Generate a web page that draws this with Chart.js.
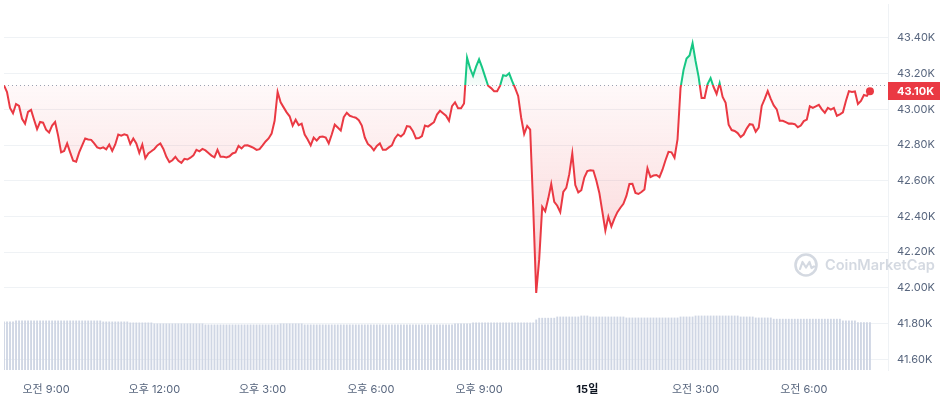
<!DOCTYPE html>
<html><head><meta charset="utf-8">
<script src="https://cdn.jsdelivr.net/npm/chart.js@4.4.1/dist/chart.umd.min.js"></script>
<style>html,body{margin:0;padding:0;background:#fff;}canvas{display:block}</style>
</head><body>
<canvas id="c" width="944" height="396"></canvas>
<script>
// 24h BTC price (USD), one value every 5 minutes starting 오전 7:50
const priceValues = [
43134,43097,43008,42978,43030,43019,42947,42920,42986,42997,
42942,42889,42929,42925,42886,42870,42909,42929,42853,42759,
42767,42809,42759,42712,42707,42759,42798,42837,42831,42829,
42809,42787,42781,42787,42776,42803,42767,42803,42859,42853,
42860,42855,42806,42837,42809,42756,42803,42726,42753,42765,
42778,42798,42809,42778,42734,42704,42715,42734,42712,42700,
42723,42719,42729,42742,42773,42765,42778,42770,42756,42741,
42731,42773,42734,42734,42731,42737,42753,42759,42795,42781,
42798,42799,42792,42784,42773,42777,42798,42820,42837,42864,
42936,43097,43039,43011,42983,42961,42909,42942,42911,42920,
42859,42831,42798,42842,42825,42845,42848,42842,42809,42859,
42914,42898,42881,42956,42981,42964,42958,42953,42939,42909,
42842,42806,42792,42770,42795,42809,42773,42773,42787,42798,
42837,42859,42848,42864,42906,42903,42878,42837,42839,42850,
42909,42903,42916,42928,42971,42992,42978,42964,42936,43018,
43039,43006,43006,43033,43290,43230,43188,43239,43280,43235,
43183,43132,43119,43101,43101,43133,43191,43187,43202,43158,
43119,43075,42953,42862,42907,42886,42454,41972,42161,42454,
42429,42500,42582,42482,42460,42424,42537,42560,42637,42753,
42576,42535,42547,42618,42654,42659,42657,42602,42532,42427,
42321,42399,42344,42388,42424,42449,42471,42515,42582,42583,
42532,42526,42537,42551,42670,42620,42629,42632,42620,42662,
42715,42762,42759,42729,42831,43119,43220,43285,43302,43371,
43271,43183,43064,43064,43141,43175,43125,43086,43147,43069,
43036,42914,42884,42879,42867,42845,42859,42892,42917,42914,
42875,42898,43019,43058,43102,43058,43022,43000,42936,42936,
42928,42920,42921,42917,42900,42909,42934,42943,43017,43008,
43017,43025,43000,42981,43008,42999,43008,42964,42972,42983,
43047,43102,43097,43100,43030,43047,43080,43075,43102
];
// 24h trading volume (billions USD), same timestamps
const volumeValues = [
19.6,19.6,19.6,19.6,
20.0,20.0,20.0,20.0,20.0,20.0,20.0,20.0,20.0,20.0,20.0,20.0,20.0,20.0,20.0,20.0,20.0,20.0,20.0,20.0,20.0,20.0,20.0,20.0,20.0,20.0,20.0,20.0,20.0,
19.6,19.6,19.6,19.6,19.6,19.6,19.6,19.6,19.6,
19.2,19.2,19.2,19.2,19.2,19.2,19.2,19.2,
18.8,18.8,18.8,18.8,18.8,18.8,18.8,18.8,18.8,18.8,18.8,18.8,18.8,18.8,18.8,18.8,18.8,
18.4,18.4,18.4,18.4,18.4,18.4,18.4,18.4,18.4,18.4,18.4,18.4,18.4,18.4,18.4,18.4,18.4,18.4,18.4,18.4,18.4,18.4,18.4,18.4,18.4,
18.8,18.8,18.8,18.8,18.8,18.8,18.8,18.8,
18.4,18.4,18.4,18.4,18.4,18.4,18.4,18.4,18.4,18.4,18.4,18.4,18.4,18.4,18.4,18.4,18.4,18.4,18.4,18.4,18.4,18.4,18.4,18.4,18.4,
18.4,18.4,18.4,18.4,18.4,18.4,18.4,18.4,18.4,18.4,18.4,18.4,18.4,18.4,18.4,18.4,18.4,18.4,18.4,18.4,18.4,18.4,18.4,18.4,18.4,
18.8,18.8,18.8,18.8,18.8,18.8,
19.2,19.2,19.2,19.2,19.2,19.2,19.2,19.2,19.2,19.2,19.2,19.2,19.2,19.2,19.2,19.2,19.2,19.2,19.2,19.2,19.2,
20.4,
21.1,21.1,21.1,21.1,21.1,21.1,
21.6,21.6,21.6,21.6,21.6,21.6,21.6,21.6,
22.0,22.0,22.0,
21.6,21.6,21.6,21.6,21.6,21.6,21.6,21.6,21.6,21.6,21.6,21.6,
21.2,21.2,21.2,21.2,21.2,21.2,21.2,21.2,21.2,21.2,21.2,21.2,21.2,21.2,21.2,21.2,21.2,21.2,
21.6,21.6,21.6,21.6,21.6,
22.0,22.0,22.0,22.0,22.0,22.0,22.0,22.0,22.0,22.0,22.0,22.0,22.0,22.0,22.0,
21.6,21.6,21.6,21.6,21.6,
21.2,21.2,21.2,21.2,21.2,21.2,
20.7,20.7,20.7,20.7,20.7,20.7,20.7,20.7,20.7,20.7,20.7,20.7,20.7,20.7,20.7,20.7,20.7,20.7,20.7,20.7,20.7,20.7,20.7,
20.0,20.0,20.0,20.0,20.0,
19.3,19.3,19.3,19.3,19.3
];
const stepMinutes = 5;
const timeMinutes = priceValues.map((_, i) => i * stepMinutes); // minutes after 오전 7:50
const xTickMinutes = [70, 250, 430, 610, 790, 970, 1150, 1330];
const xTickLabels = ['오전 9:00', '오후 12:00', '오후 3:00', '오후 6:00', '오후 9:00', '15일', '오전 3:00', '오전 6:00'];
const yTickValues = [41600, 41800, 42000, 42200, 42400, 42600, 42800, 43000, 43200, 43400];

const baseline = priceValues[0];
const lastIndex = priceValues.length - 1;
const lastPrice = priceValues[lastIndex];
const RED = '#ea3943', GREEN = '#16c784';
const FONT = 'Inter, "Noto Sans CJK KR", sans-serif';

function splitGradient(chart, c0, c1, c2, c3) {
  const {ctx, chartArea, scales} = chart;
  if (!chartArea || !scales.y) return c3;
  const by = scales.y.getPixelForValue(baseline);
  let f = (by - chartArea.top) / (chartArea.bottom - chartArea.top);
  f = Math.min(1, Math.max(0, f));
  const g = ctx.createLinearGradient(0, chartArea.top, 0, chartArea.bottom);
  g.addColorStop(0, c0); g.addColorStop(f, c1); g.addColorStop(f, c2); g.addColorStop(1, c3);
  return g;
}
function noPad(s) { s.paddingLeft = 0; s.paddingRight = 0; s.paddingTop = 0; s.paddingBottom = 0; }

const decor = {
  id: 'decor',
  beforeDatasetsDraw(chart) {
    const {ctx, chartArea, scales} = chart;
    // watermark
    ctx.save();
    const col = 'rgba(160,170,188,0.45)';
    ctx.strokeStyle = col; ctx.fillStyle = col;
    const cx = 806, cy = 265;
    ctx.lineWidth = 2.6;
    ctx.beginPath(); ctx.arc(cx, cy, 10.5, 0, Math.PI * 2); ctx.stroke();
    ctx.lineWidth = 2.2; ctx.lineJoin = 'round'; ctx.lineCap = 'round';
    ctx.beginPath();
    ctx.moveTo(cx - 6, cy + 4); ctx.lineTo(cx - 3.5, cy - 3); ctx.lineTo(cx, cy + 2.5);
    ctx.lineTo(cx + 3.5, cy - 3); ctx.lineTo(cx + 5.5, cy + 3); ctx.lineTo(cx + 8, cy + 1.5);
    ctx.stroke();
    ctx.font = '600 17px ' + FONT;
    const txt = 'CoinMarketCap';
    const w = ctx.measureText(txt).width;
    const target = 110;
    ctx.font = '600 ' + (17 * target / w).toFixed(2) + 'px ' + FONT;
    ctx.textBaseline = 'middle'; ctx.textAlign = 'left';
    ctx.fillText(txt, 825, cy + 1);
    ctx.restore();
    // dotted baseline
    const by = scales.y.getPixelForValue(baseline);
    ctx.save();
    ctx.strokeStyle = '#9aa3b3'; ctx.lineWidth = 1; ctx.setLineDash([1, 3]);
    ctx.beginPath(); ctx.moveTo(chartArea.left, Math.round(by) + 0.5); ctx.lineTo(chartArea.right, Math.round(by) + 0.5); ctx.stroke();
    ctx.restore();
  },
  afterDraw(chart) {
    const {ctx, chartArea, scales} = chart;
    const y = scales.y.getPixelForValue(lastPrice);
    ctx.save();
    ctx.fillStyle = RED;
    ctx.fillRect(chartArea.right, Math.round(y) - 9, 52, 18);
    ctx.fillStyle = '#fff';
    ctx.font = 'bold 11px ' + FONT;
    ctx.textBaseline = 'middle'; ctx.textAlign = 'left';
    ctx.fillText((lastPrice / 1000).toFixed(2) + 'K', chartArea.right + 9, Math.round(y) + 0.5);
    ctx.restore();
  }
};

new Chart(document.getElementById('c'), {
  data: {
    labels: timeMinutes,
    datasets: [
      {
        type: 'line',
        data: priceValues,
        yAxisID: 'y',
        borderWidth: 2,
        tension: 0,
        borderColor: (c) => splitGradient(c.chart, GREEN, GREEN, RED, RED),
        backgroundColor: (c) => splitGradient(c.chart, 'rgba(22,199,132,0.28)', 'rgba(22,199,132,0.04)', 'rgba(234,57,67,0.03)', 'rgba(234,57,67,0.30)'),
        fill: {target: {value: baseline}},
        pointRadius: (c) => c.dataIndex === lastIndex ? 4 : 0,
        pointHoverRadius: 0,
        pointBackgroundColor: RED,
        pointBorderWidth: 0,
        order: 0
      },
      {
        type: 'bar',
        data: volumeValues,
        yAxisID: 'yVol',
        backgroundColor: '#cfd6e4',
        barPercentage: 0.62,
        categoryPercentage: 1,
        order: 1
      }
    ]
  },
  options: {
    responsive: false,
    animation: false,
    layout: {padding: 0},
    plugins: {legend: {display: false}, tooltip: {enabled: false}},
    scales: {
      x: {
        type: 'linear', position: 'bottom', min: 0, max: 1470, offset: false,
        grid: {display: false, offset: false}, border: {display: false},
        afterBuildTicks: (s) => { s.ticks = xTickMinutes.map(v => ({value: v})); },
        afterFit: (s) => { s.height = 26; noPad(s); },
        ticks: {
          autoSkip: false, maxRotation: 0, padding: 5,
          color: (c) => c.tick && c.tick.value === 970 ? '#0d1421' : '#58667e',
          font: (c) => ({family: FONT, size: 11, weight: c.tick && c.tick.value === 970 ? 'bold' : 'normal'}),
          callback: (v) => { const k = xTickMinutes.indexOf(v); return k >= 0 ? xTickLabels[k] : ''; }
        }
      },
      y: {
        type: 'linear', position: 'right', min: 41540, max: 43590,
        grid: {color: '#eff2f5', drawTicks: false},
        border: {display: true, color: '#eff2f5'},
        afterBuildTicks: (s) => { s.ticks = yTickValues.map(v => ({value: v})); },
        afterFit: (s) => { s.width = 56; noPad(s); },
        ticks: {
          padding: 9, color: '#58667e', font: {family: FONT, size: 11},
          callback: (v) => (v / 1000).toFixed(2) + 'K'
        }
      },
      yVol: {
        type: 'linear', display: false, min: 0, max: 148,
        afterFit: (s) => { noPad(s); }
      }
    }
  },
  plugins: [decor]
});
</script>
</body></html>
